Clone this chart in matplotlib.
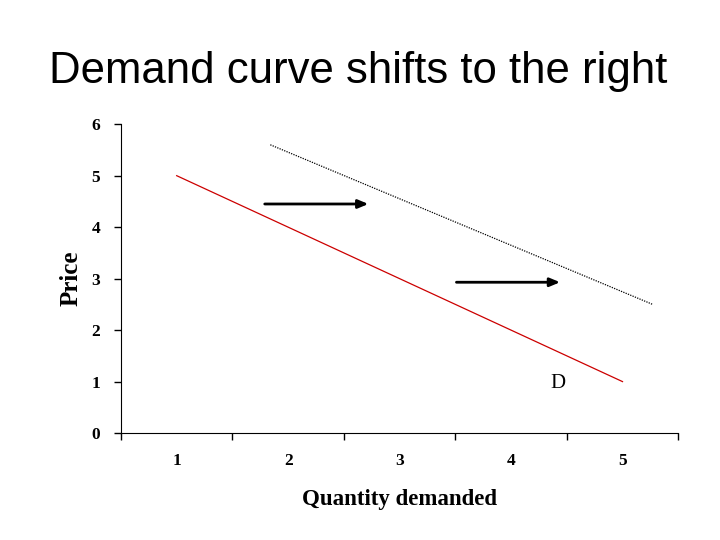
import matplotlib.pyplot as plt

# original demand curve (category axis 1..5)
quantity = [1, 2, 3, 4, 5]
price = [5, 4, 3, 2, 1]

# shifted demand curve (dotted), end points
shift_x = [1.84, 5.27]
shift_y = [5.6, 2.5]

# arrows: (x start, x end, y)
arrows = [(1.79, 2.72, 4.45), (3.51, 4.44, 2.93)]

fig = plt.figure(figsize=(7.2, 5.4), dpi=100)
fig.text(0.497, 0.846, 'Demand curve shifts to the right', ha='center', va='baseline',
         fontsize=31.5, family='Liberation Sans')

ax = fig.add_axes([0.168, 0.198, 0.774, 0.572])
ax.plot(quantity, price, color='#cc0000', lw=0.9)
ax.plot(shift_x, shift_y, color='black', lw=0.9, ls=(0, (1, 1)))

for x0, x1, y in arrows:
    ax.annotate('', xy=(x1, y), xytext=(x0, y),
                arrowprops=dict(arrowstyle='-|>,head_length=0.6,head_width=0.25',
                                color='black', lw=2, shrinkA=0, shrinkB=0))

ax.text(4.42, 0.97, 'D', ha='center', va='center', fontsize=15, family='Liberation Serif')

ax.set_xlim(0.5, 5.5)
ax.set_ylim(0, 6)
ax.set_xticks([0.5, 1.5, 2.5, 3.5, 4.5, 5.5])
ax.set_xticklabels([])
ax.set_xticks(quantity, minor=True)
ax.set_xticklabels([str(q) for q in quantity], minor=True,
                   family='Liberation Serif', fontweight='bold', fontsize=12.5)
ax.tick_params(axis='x', which='minor', length=0, pad=14)
ax.tick_params(axis='x', which='major', length=5, width=1)
ax.set_yticks(range(7))
ax.set_yticklabels([str(v) for v in range(7)], family='Liberation Serif',
                   fontweight='bold', fontsize=12.5)
ax.tick_params(axis='y', length=5, width=1, pad=10)

for s in ['top', 'right']:
    ax.spines[s].set_visible(False)

ax.set_xlabel('Quantity demanded', family='Liberation Serif', fontweight='bold',
              fontsize=16.5, labelpad=15)
ax.set_ylabel('Price', family='Liberation Serif', fontweight='bold', fontsize=18,
              labelpad=6)

fig.savefig('out.png', dpi=100)
